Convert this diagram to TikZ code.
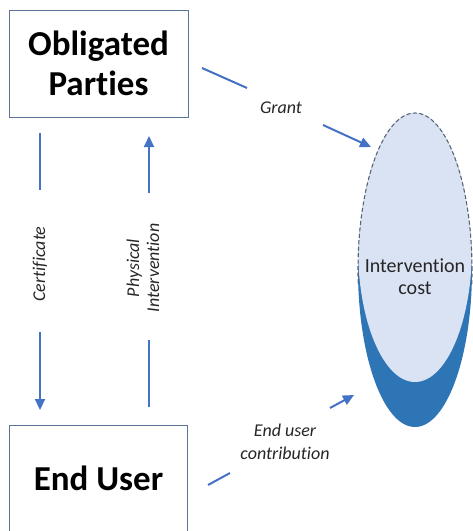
\documentclass[tikz,border=0pt]{standalone}
\usepackage{fontspec}
\setmainfont{Carlito}[RawFeature={-liga}]
\usetikzlibrary{arrows.meta}
\definecolor{arrowblue}{HTML}{4472C4}
\definecolor{lightfill}{HTML}{DAE3F3}
\definecolor{darkfill}{HTML}{2E75B6}
\definecolor{boxline}{RGB}{90,115,150}
\definecolor{dashline}{RGB}{90,100,115}
\begin{document}
\begin{tikzpicture}[x=1pt,y=-1pt,
  box/.style={draw=boxline, line width=1pt, fill=white, inner sep=0pt, align=center,
    font=\fontsize{35}{40}\selectfont\bfseries},
  conn/.style={draw=arrowblue, line width=2pt},
  arr/.style={conn, -{Triangle[length=11pt,width=10pt]}},
  lbl/.style={font=\fontsize{18}{23}\selectfont\itshape, text=black!85, inner sep=0pt, align=center},
  rlbl/.style={lbl, font=\fontsize{18}{20}\selectfont\itshape, rotate=90},
  costlbl/.style={font=\fontsize{20}{22}\selectfont, text=black!85, inner sep=0pt, align=center}
]
\useasboundingbox (0,0) rectangle (473,531);

% boxes
\node[box, minimum width=179pt, minimum height=107pt] (op) at (98.5,63.5) {Obligated\\Parties};
\node[box, minimum width=178pt, minimum height=107pt] (eu) at (98.5,478.5) {End User};

% intervention cost ellipse
\fill[darkfill] (415,270) ellipse [x radius=57pt, y radius=157pt];
\begin{scope}
  \clip (415,270) ellipse [x radius=57pt, y radius=157pt];
  \fill[lightfill] (415,247.5) ellipse [x radius=57pt, y radius=134.5pt];
\end{scope}
\begin{scope}
  \clip (340,100) rectangle (480,284);
  \draw[dashline, line width=1.1pt, dash pattern=on 4pt off 2.5pt]
    (415,270) ellipse [x radius=57pt, y radius=157pt];
\end{scope}
\node[costlbl] (ic) at (415,277) {Intervention\\cost};

% Grant
\coordinate (g1) at (202,68);
\coordinate (g2) at (247,88);
\coordinate (g3) at (323,125);
\coordinate (g4) at (371,147);
\draw[conn] (g1) -- (g2);
\draw[arr] (g3) -- (g4);
\node[lbl] (grant) at (281,108) {Grant};

% End user contribution
\coordinate (e1) at (208,485);
\coordinate (e2) at (230,473);
\coordinate (e3) at (330,408);
\coordinate (e4) at (354,395);
\draw[conn] (e1) -- (e2);
\draw[arr] (e3) -- (e4);
\node[lbl] (euc) at (285,441.5) {End user\\contribution};

% Certificate
\coordinate (c1) at (40,133);
\coordinate (c2) at (40,190);
\coordinate (c3) at (40,332);
\coordinate (c4) at (40,410);
\draw[conn] (c1) -- (c2);
\draw[arr] (c3) -- (c4);
\node[rlbl] (cert) at (40,264) {Certificate};

% Physical Intervention
\coordinate (p1) at (149,407);
\coordinate (p2) at (149,340);
\coordinate (p3) at (149,193);
\coordinate (p4) at (149,136);
\draw[conn] (p1) -- (p2);
\draw[arr] (p3) -- (p4);
\node[rlbl] (phys) at (143,268) {Physical\\Intervention};
\end{tikzpicture}
\end{document}
